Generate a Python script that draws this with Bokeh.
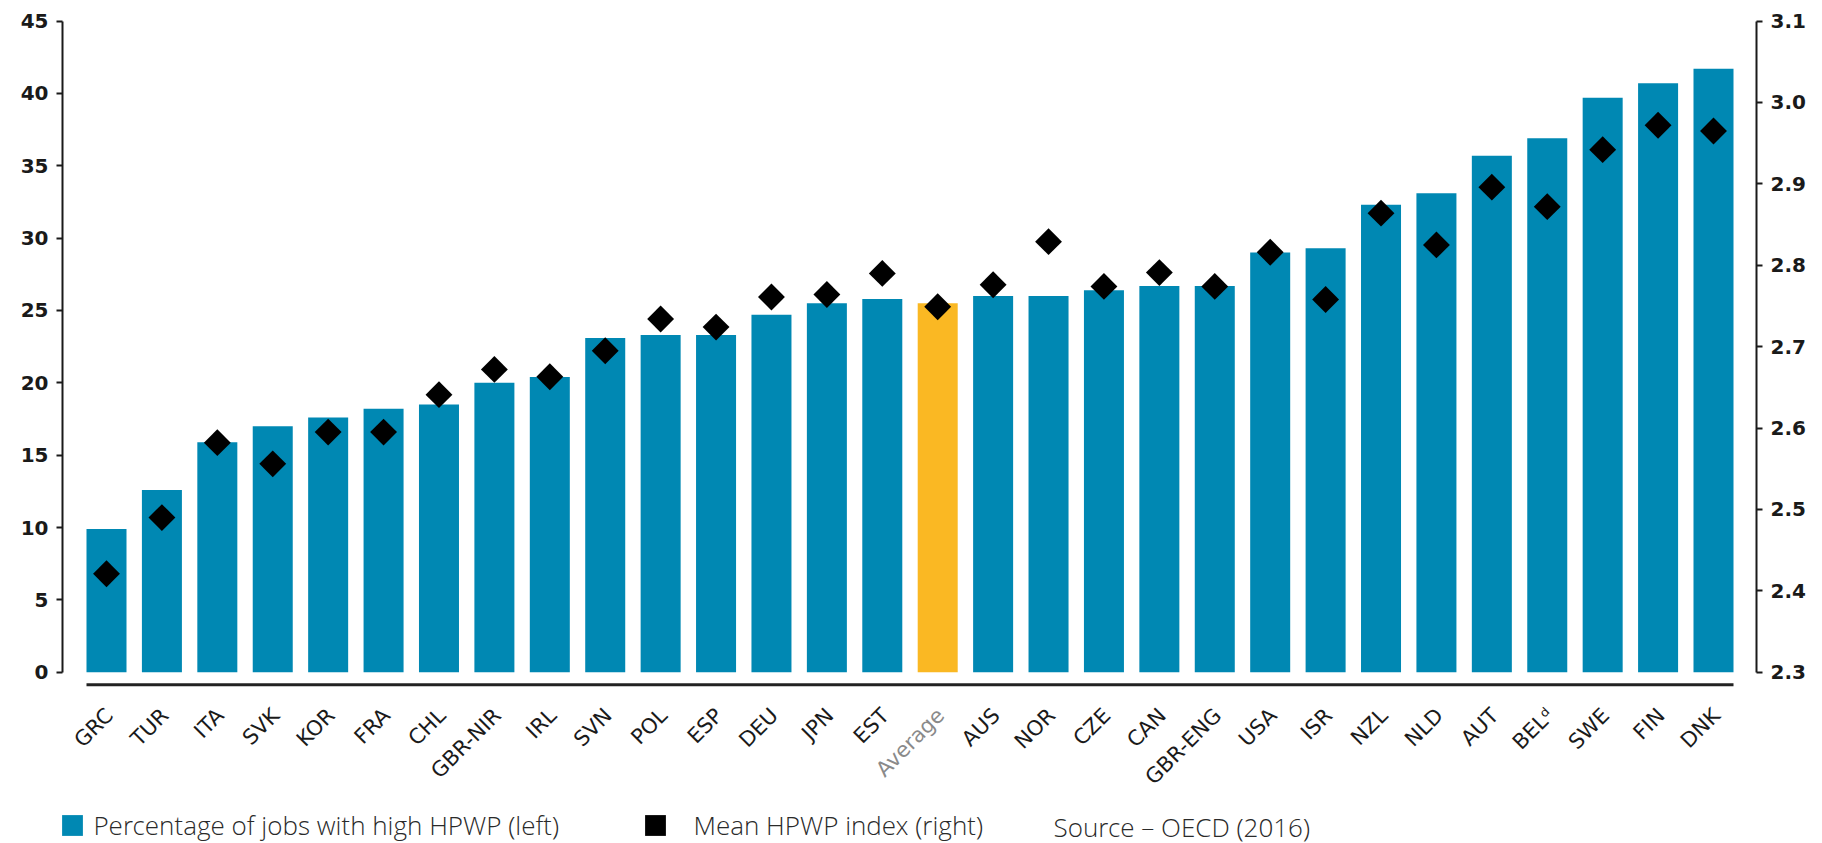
import math
from bokeh.plotting import figure
from bokeh.models import (Range1d, LinearAxis, FixedTicker, PrintfTickFormatter,
                          ColumnDataSource, Legend, LegendItem)
from bokeh.core.properties import value
from bokeh.embed import file_html
from bokeh.resources import INLINE

# ---------------- data ----------------
countries = ["GRC", "TUR", "ITA", "SVK", "KOR", "FRA", "CHL", "GBR-NIR", "IRL", "SVN",
             "POL", "ESP", "DEU", "JPN", "EST", "Average", "AUS", "NOR", "CZE", "CAN",
             "GBR-ENG", "USA", "ISR", "NZL", "NLD", "AUT", "BEL\u1d48", "SWE", "FIN", "DNK"]
pct_high_hpwp = [9.9, 12.6, 15.9, 17.0, 17.6, 18.2, 18.5, 20.0, 20.4, 23.1,
                 23.3, 23.3, 24.7, 25.5, 25.8, 25.5, 26.0, 26.0, 26.4, 26.7,
                 26.7, 29.0, 29.3, 32.3, 33.1, 35.7, 36.9, 39.7, 40.7, 41.7]
mean_hpwp = [2.421, 2.490, 2.582, 2.556, 2.595, 2.595, 2.641, 2.672, 2.663, 2.695,
             2.734, 2.724, 2.761, 2.764, 2.790, 2.749, 2.776, 2.829, 2.774, 2.791,
             2.774, 2.816, 2.758, 2.864, 2.825, 2.896, 2.872, 2.942, 2.972, 2.965]
left_ticks = [0, 5, 10, 15, 20, 25, 30, 35, 40, 45]
right_ticks = [2.3, 2.4, 2.5, 2.6, 2.7, 2.8, 2.9, 3.0, 3.1]
legend_labels = ["Percentage of jobs with high HPWP (left)", "Mean HPWP index (right)"]
source_note = "Source \u2013 OECD (2016)"

BLUE = "#0088B3"
GOLD = "#FAB823"
INK = "#1a1a1a"
LEGEND_INK = "#2a2a2a"

n = len(countries)
xs = list(range(n))
bar_colors = [GOLD if c == "Average" else BLUE for c in countries]
label_colors = ["#8a8a8a" if c == "Average" else INK for c in countries]

src = ColumnDataSource(dict(x=xs, pct=pct_high_hpwp, hpwp=mean_hpwp, name=countries,
                            bcol=bar_colors, lcol=label_colors))

# left scale 0..45 maps to right scale 2.3..3.1
def to_right(v):
    return 2.3 + v * 0.8 / 45.0

W, H = 1822, 843
PX_PER_UNIT = 14.469
ZERO_Y = 671.7
TOP = 10
FRAME_LEFT = 62
y1 = 45 + (ZERO_Y - 45 * PX_PER_UNIT - TOP) / PX_PER_UNIT
y0 = (ZERO_Y - H) / PX_PER_UNIT

p = figure(width=W, height=H,
           x_range=Range1d(-0.794, 29.776), y_range=Range1d(y0, y1),
           x_axis_location=None, y_axis_location=None,
           output_backend="svg", toolbar_location=None,
           min_border_left=FRAME_LEFT, min_border_right=66, min_border_top=TOP, min_border_bottom=0)
p.outline_line_color = None
p.grid.grid_line_color = None
p.background_fill_color = "white"
p.extra_y_ranges = {"right": Range1d(to_right(y0), to_right(y1))}

def style_axis(ax):
    ax.axis_line_color = INK
    ax.axis_line_width = 2
    ax.major_tick_line_color = INK
    ax.major_tick_line_width = 2
    ax.major_tick_out = 6
    ax.major_tick_in = 0
    ax.minor_tick_line_color = None
    ax.major_label_standoff = 8
    ax.major_label_text_font = "DejaVu Sans"
    ax.major_label_text_font_style = "bold"
    ax.major_label_text_font_size = "20px"
    ax.major_label_text_color = INK

left = LinearAxis(ticker=FixedTicker(ticks=left_ticks), bounds=(0, 45))
style_axis(left)
p.add_layout(left, "left")

right = LinearAxis(y_range_name="right", ticker=FixedTicker(ticks=right_ticks),
                   formatter=PrintfTickFormatter(format="%.1f"), bounds=(2.3, 3.1))
style_axis(right)
p.add_layout(right, "right")

# bars
p.vbar(x="x", top="pct", bottom=0, width=0.722, fill_color="bcol", line_color=None, source=src)

# baseline under the bars
p.segment(x0=[xs[0] - 0.361], x1=[xs[-1] + 0.361], y0=[-0.86], y1=[-0.86],
          line_color="#222222", line_width=3)

# diamonds (right axis)
p.scatter(x="x", y="hpwp", y_range_name="right", marker="square", angle=math.pi / 4,
          size=19, fill_color="black", line_color=None, source=src)

# category labels
p.text(x="x", y=-2.75, text="name", angle=math.pi / 4, text_align="right",
       text_baseline="middle", text_font=value("DejaVu Sans"), text_font_size="21px",
       text_color="lcol", x_offset=3, source=src)

# legend swatches: zero-area proxies that only feed the legend
sw_blue = p.quad(left=[0], right=[0], top=[0], bottom=[0], fill_color=BLUE, line_color=None)
sw_black = p.quad(left=[0], right=[0], top=[0], bottom=[0], fill_color="black", line_color=None)

def make_legend(label, renderer, box_left_px, standoff):
    lg = Legend(items=[LegendItem(label=label, renderers=[renderer])],
                location=(box_left_px - FRAME_LEFT, 0), orientation="horizontal",
                padding=0, margin=0, spacing=0,
                border_line_color=None, background_fill_alpha=0,
                glyph_width=26, glyph_height=26, label_height=26,
                label_standoff=standoff,
                label_text_font="Open Sans Light, Open Sans", label_text_font_size="26px",
                label_text_color=LEGEND_INK)
    p.add_layout(lg, "center")

make_legend(legend_labels[0], sw_blue, 59.4, 8)
make_legend(legend_labels[1], sw_black, 641.5, 26)

# source note
def sx(px):
    return (px - 106.0) / 55.41

def sy(py):
    return (ZERO_Y - py) / PX_PER_UNIT

p.text(x=[sx(1053)], y=[sy(826)], text=[source_note],
       text_align="left", text_baseline="middle",
       text_font=value("Open Sans Light, Open Sans"), text_font_size="26px", text_color=LEGEND_INK)

open("out.html", "w").write(file_html(p, INLINE))
